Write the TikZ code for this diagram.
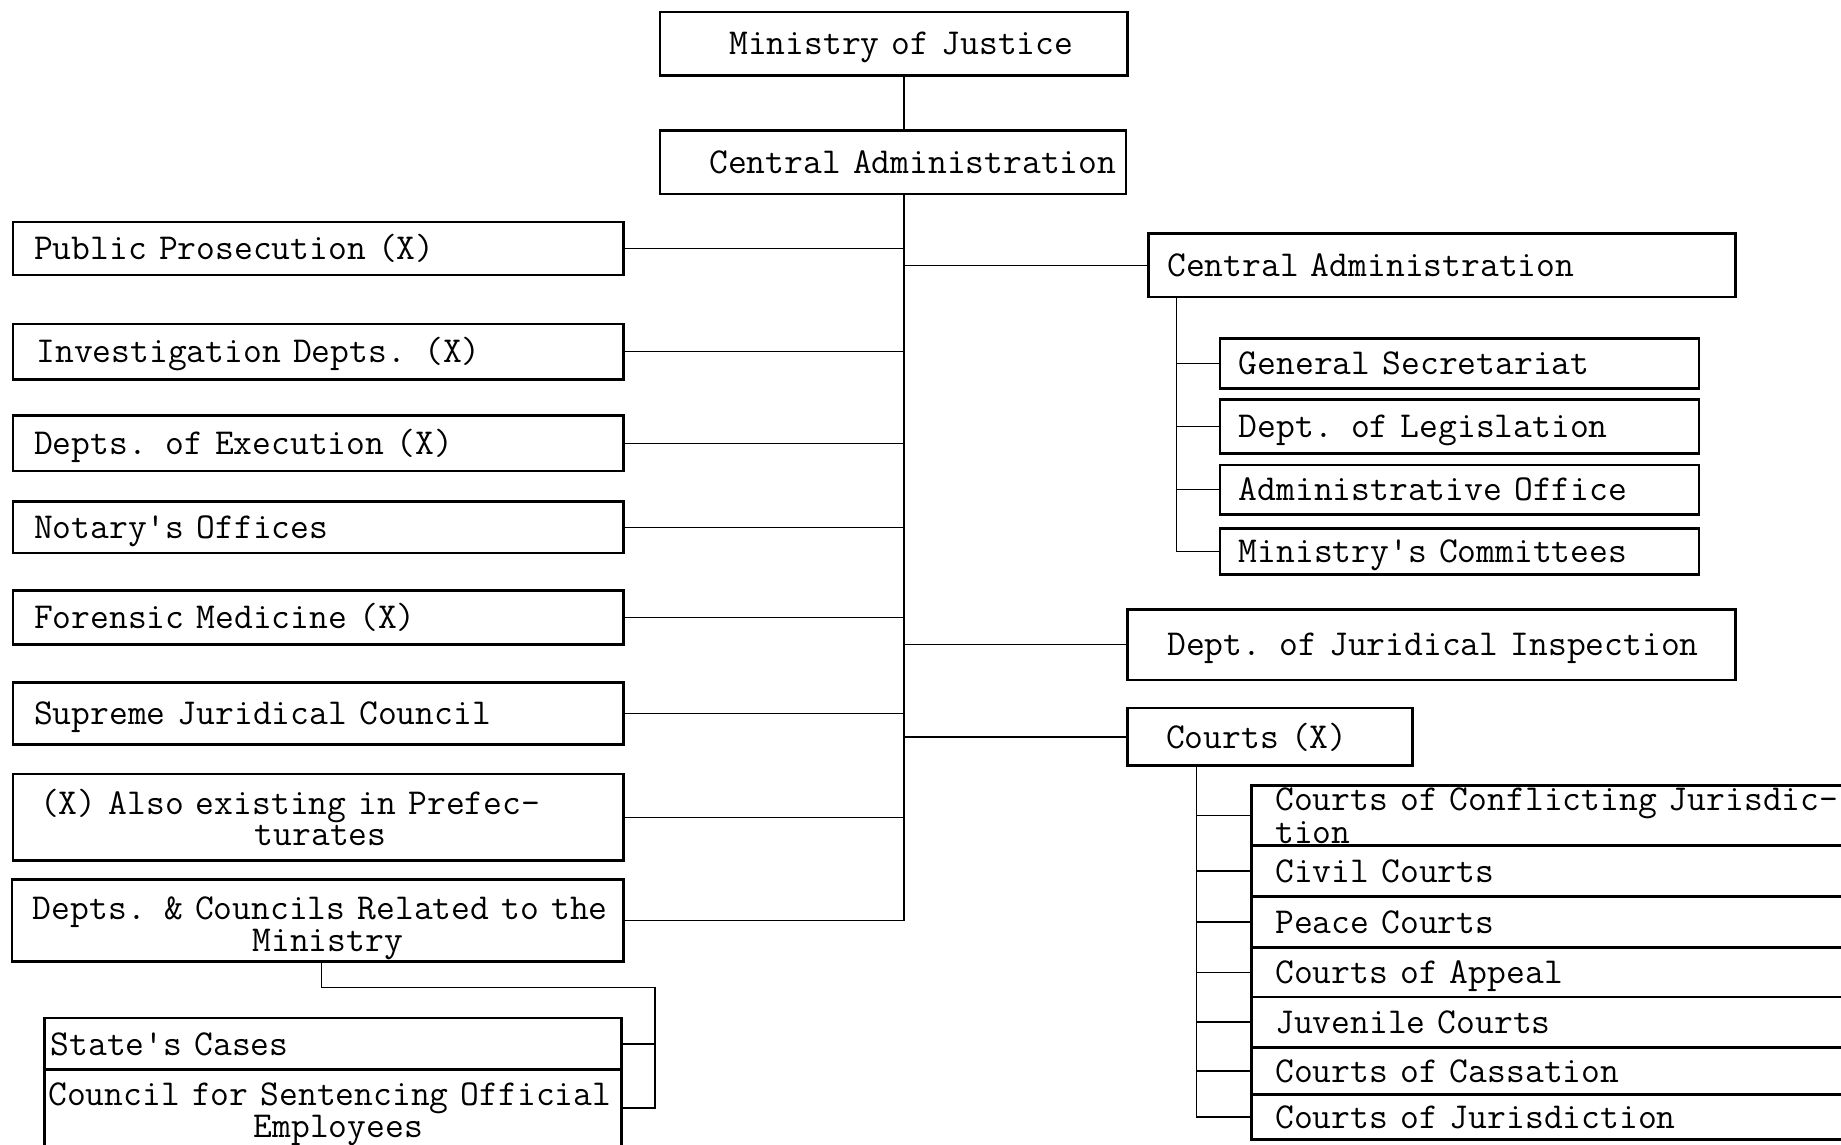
\documentclass[tikz,border=0pt]{standalone}
\usepackage{fontspec}
\begin{document}
\begin{tikzpicture}[x=0.5pt,y=-0.5pt,
  every node/.style={font=\ttfamily\fontsize{15.55}{13.5}\selectfont},
  box/.style={draw, line width=1.1pt, inner xsep=0pt, inner ysep=0pt, align=left, anchor=north west},
  one/.style={text height=11.5pt, text depth=2pt},
  con/.style={line width=0.6pt}]
\useasboundingbox (0,0) rectangle (1568,975);
\clip (0,0) rectangle (1568,975);
% top
\node[box,one,text width=199pt,minimum height=27pt] (mj) at (561,9) {\hspace*{29.5pt}Ministry of Justice};
\node[box,one,text width=198.5pt,minimum height=27pt] (ca) at (561,110) {\hspace*{21pt}Central Administration};
% left column
\node[box,one,text width=260pt,minimum height=22.5pt] (pp) at (10,188) {\hspace*{9pt}Public Prosecution (X)};
\node[box,one,text width=260pt,minimum height=23.5pt] (inv) at (10,275) {\hspace*{10pt}Investigation Depts. (X)};
\node[box,one,text width=260pt,minimum height=23.5pt] (exe) at (10,353) {\hspace*{9pt}Depts. of Execution (X)};
\node[box,one,text width=260pt,minimum height=22pt] (nto) at (10,426) {\hspace*{9pt}Notary's Offices};
\node[box,one,text width=260pt,minimum height=23pt] (frm) at (10,502) {\hspace*{9pt}Forensic Medicine (X)};
\node[box,one,text width=260pt,minimum height=26.5pt] (sjc) at (10,580) {\hspace*{9pt}Supreme Juridical Council};
\node[box,text width=260pt,minimum height=37pt] (als) at (10,658) {\hspace*{11.5pt}(X) Also existing in Prefec-\\\hspace*{103pt}turates};
\node[box,text width=260.5pt,minimum height=35pt] (dc) at (9,748) {\rule{0pt}{16pt}\hspace*{9pt}Depts. \& Councils Related to the\\\hspace*{102.5pt}Ministry};
\node[box,one,text width=245.5pt,minimum height=22pt] (sc) at (37,866) {\hspace*{2.5pt}State's Cases};
\node[box,text width=245.5pt,minimum height=32.5pt] (cs) at (37,910) {\rule{0pt}{15pt}\hspace*{1.5pt}Council for Sentencing Official\\\hspace*{89pt}Employees};
% right column
\node[box,one,text width=250pt,minimum height=27pt] (ca2) at (977,198) {\hspace*{8pt}Central Administration};
\node[box,one,text width=204pt,minimum height=21.5pt] (gs) at (1038,287) {\hspace*{8pt}General Secretariat};
\node[box,one,text width=204pt,minimum height=23pt] (leg) at (1038,339) {\hspace*{8pt}Dept. of Legislation};
\node[box,one,text width=204pt,minimum height=21pt] (adm) at (1038,395) {\hspace*{8pt}Administrative Office};
\node[box,one,text width=204pt,minimum height=19.5pt] (mc) at (1038,449) {\hspace*{8pt}Ministry's Committees};
\node[box,one,text width=259pt,minimum height=30pt] (dji) at (959,518) {\hspace*{17pt}Dept. of Juridical Inspection};
\node[box,one,text width=121.5pt,minimum height=24.5pt] (cx) at (959,602) {\hspace*{16.5pt}Courts (X)};
% courts stack
\node[box,text width=267.5pt,minimum height=25.5pt,font=\ttfamily\fontsize{15.55}{10.5}\selectfont] (c1) at (1065,668) {\hspace*{10pt}Courts of Conflicting Jurisdic-\\\hspace*{10pt}tion};
\node[box,one,text width=267.5pt,minimum height=21.75pt] (c2) at (1065,719) {\hspace*{10pt}Civil Courts};
\node[box,one,text width=267.5pt,minimum height=21.75pt] (c3) at (1065,762.5) {\hspace*{10pt}Peace Courts};
\node[box,one,text width=267.5pt,minimum height=21pt] (c4) at (1065,806) {\hspace*{10pt}Courts of Appeal};
\node[box,one,text width=267.5pt,minimum height=21.5pt] (c5) at (1065,848) {\hspace*{10pt}Juvenile Courts};
\node[box,one,text width=267.5pt,minimum height=20pt] (c6) at (1065,891) {\hspace*{10pt}Courts of Cassation};
\node[box,one,text width=267.5pt,minimum height=19.25pt] (c7) at (1065,931) {\hspace*{10pt}Courts of Jurisdiction};
% helper coordinates
\coordinate (tr) at (770,0);
\coordinate (s1) at (1002,0);
\coordinate (s2) at (1019,0);
\coordinate (d1) at (274,0);
\coordinate (d2) at (558,841);
% connectors
\draw[con] (mj.south -| tr) -- (ca.north -| tr);
\draw[con] (ca.south -| tr) |- (dc.east);
\foreach \n in {pp,inv,exe,nto,frm,sjc,als} \draw[con] (\n.east) -- (tr |- \n.east);
\foreach \n in {ca2,dji,cx} \draw[con] (tr |- \n.west) -- (\n.west);
\draw[con] (ca2.south -| s1) |- (mc.west);
\foreach \n in {gs,leg,adm} \draw[con] (s1 |- \n.west) -- (\n.west);
\draw[con] (cx.south -| s2) |- (c7.west);
\foreach \n in {c1,c2,c3,c4,c5,c6} \draw[con] (s2 |- \n.west) -- (\n.west);
\draw[con] (dc.south -| d1) |- (d2) |- (cs.east);
\draw[con] (d2 |- sc.east) -- (sc.east);
\end{tikzpicture}
\end{document}
